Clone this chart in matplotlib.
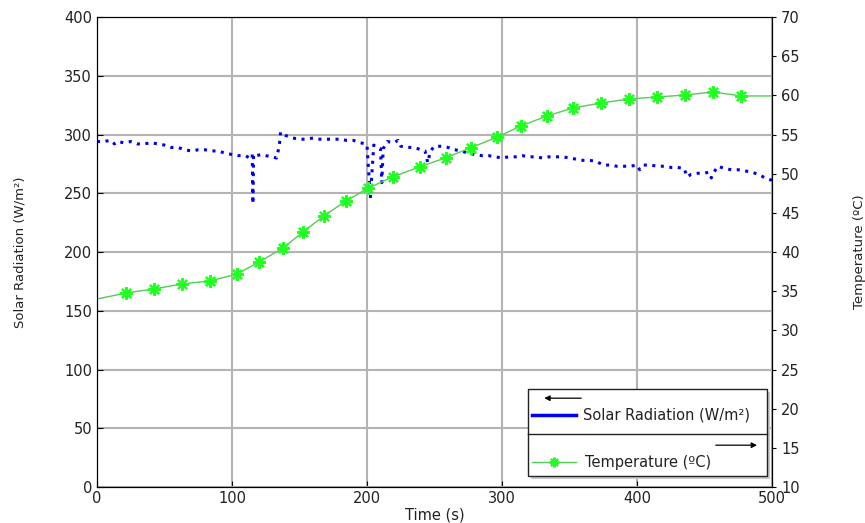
import matplotlib.pyplot as plt
from matplotlib.lines import Line2D
from matplotlib.patches import Rectangle

# solar radiation (W/m2) vs time (s)
rad_t = [0, 5, 10, 13, 15, 20, 25, 30, 35, 40, 45, 50, 55, 60, 65, 70, 75, 80, 85, 90,
         95, 100, 105, 110, 113, 115, 115.5, 116, 118, 122, 125, 130, 133, 135, 136, 140,
         145, 150, 155, 160, 165, 170, 175, 180, 185, 190, 195, 199, 200, 202.5, 205, 208,
         210, 211, 212, 215, 220, 223, 225, 230, 235, 240, 243, 245, 247, 250, 255, 260,
         265, 270, 275, 280, 285, 290, 295, 300, 305, 310, 315, 320, 325, 330, 335, 340,
         345, 350, 355, 360, 365, 370, 375, 380, 385, 390, 395, 400, 402, 405, 410, 415,
         420, 425, 430, 435, 437, 440, 445, 450, 453, 455, 457, 460, 465, 470, 475, 480,
         485, 490, 495, 500]
rad_v = [294, 294, 295, 292, 294, 293, 294, 292, 292, 293, 292, 291, 289, 289, 287, 286,
         287, 287, 286, 286, 284, 283, 282, 282, 280, 283, 241, 283, 282, 283, 282, 281,
         280, 290, 302, 299, 297, 296, 296, 297, 296, 296, 296, 296, 295, 295, 293, 292,
         291, 246, 291, 289, 288, 259, 288, 294, 293, 295, 290, 289, 289, 287, 286, 276,
         286, 290, 290, 289, 287, 286, 284, 283, 282, 282, 281, 280, 281, 281, 282, 281,
         281, 280, 281, 281, 281, 280, 279, 278, 278, 277, 274, 274, 273, 273, 273, 274,
         270, 274, 274, 273, 273, 272, 272, 271, 264, 266, 267, 267, 268, 263, 268, 273,
         271, 270, 270, 269, 268, 266, 263, 261]

# temperature (ºC) vs time (s)
temp_t = [0, 21.5, 42.2, 63, 83.7, 103.7, 120, 137.8, 152.6, 168, 184.4, 200.7, 219.3,
          239.3, 258.5, 277, 296.3, 314, 333.3, 352.6, 373.3, 394, 414.8, 435.6, 456.3,
          477, 500]
temp_v = [34.0, 34.77, 35.28, 35.92, 36.3, 37.19, 38.72, 40.51, 42.55, 44.6, 46.51, 48.13,
          49.61, 50.89, 52.04, 53.32, 54.65, 56.09, 57.36, 58.39, 59.02, 59.53, 59.79,
          60.04, 60.43, 59.92, 59.92]

blue = '#0000ee'
green_line = '#55cc55'
green_mk = '#22ff22'
star = (8, 2, 0)

fig = plt.figure(figsize=(8.65, 5.23), dpi=100)
ax = fig.add_axes([0.1121, 0.0688, 0.7804, 0.8987])
ax2 = ax.twinx()

ax.plot(rad_t, rad_v, color=blue, lw=2.2, linestyle=(0, (1, 1.8)), zorder=3)
ax2.plot(temp_t, temp_v, color=green_line, lw=1, marker=star, markersize=9,
         markeredgewidth=1.6, markeredgecolor=green_mk, markerfacecolor=green_mk,
         markevery=list(range(1, len(temp_t) - 1)))

ax.set_xlim(0, 500)
ax.set_ylim(0, 400)
ax2.set_ylim(10, 70)
ax.set_xticks(range(0, 501, 100))
ax.set_yticks(range(0, 401, 50))
ax2.set_yticks(range(10, 71, 5))
ax.grid(True, color='#b4b4b4', lw=1.5)
ax.set_axisbelow(True)
ax.tick_params(direction='in', length=4, labelsize=10.5, labelcolor='#222222')
ax2.tick_params(direction='out', length=3, labelsize=10.5, labelcolor='#222222')
ax.tick_params(axis='x', pad=3)

ax.set_xlabel('Time (s)', fontsize=10.5, color='#222222', labelpad=1)
ax.set_ylabel('Solar Radiation (W/m²)', fontsize=9.5, color='#222222', labelpad=27)
ax2.set_ylabel('Temperature (ºC)', fontsize=9.5, color='#222222', labelpad=38)

# legend box with two sections and direction arrows
x0, x1 = 0.6385, 0.9926
y0, ym, y1 = 0.0234, 0.1128, 0.2085
ax2.add_patch(Rectangle((x0 + 0.004, y0 - 0.006), x1 - x0, y1 - y0, transform=ax2.transAxes,
                        facecolor='#cccccc', edgecolor='none', zorder=9))
ax2.add_patch(Rectangle((x0, y0), x1 - x0, y1 - y0, transform=ax2.transAxes,
                        facecolor='white', edgecolor='#222222', lw=1, zorder=10))
ax2.plot([x0, x1], [ym, ym], transform=ax2.transAxes, color='#222222', lw=1, zorder=11)
ax2.annotate('', xy=(0.6585, 0.189), xytext=(0.7215, 0.189), xycoords='axes fraction',
             arrowprops=dict(arrowstyle='-|>', color='black', lw=0.9, mutation_scale=8),
             zorder=12)
ax2.annotate('', xy=(0.982, 0.089), xytext=(0.9126, 0.089), xycoords='axes fraction',
             arrowprops=dict(arrowstyle='-|>', color='black', lw=0.9, mutation_scale=8),
             zorder=12)

h1 = Line2D([], [], color=blue, lw=2.5)
h2 = Line2D([], [], color=green_line, lw=1, marker=star, markersize=7,
            markeredgewidth=1.5, markeredgecolor=green_mk)
leg1 = ax2.legend([h1], ['Solar Radiation (W/m²)'], loc='center left',
                  bbox_to_anchor=(0.645, 0.153), frameon=False, fontsize=10.5,
                  handlelength=3.0, handletextpad=0.45, borderpad=0, borderaxespad=0)
leg1.set_zorder(13)
ax2.add_artist(leg1)
leg2 = ax2.legend([h2], ['Temperature (ºC)'], loc='center left',
                  bbox_to_anchor=(0.645, 0.053), frameon=False, fontsize=10.5,
                  handlelength=3.0, handletextpad=0.6, borderpad=0, borderaxespad=0)
leg2.set_zorder(13)
for t in leg1.get_texts() + leg2.get_texts():
    t.set_color('#222222')

fig.savefig('out.png', dpi=100)
